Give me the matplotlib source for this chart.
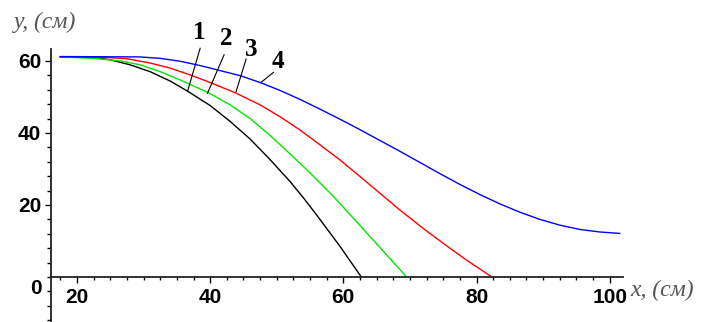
import matplotlib
matplotlib.use('Agg')
import matplotlib.pyplot as plt
from matplotlib.ticker import MultipleLocator

# curve 1 (black)
x1 = [17.5, 22.4, 25.0, 28.0, 31.0, 34.0, 36.7, 40.0, 43.0, 46.0, 49.0, 52.0, 54.0, 56.0, 59.5, 62.7]
y1 = [61.1, 61.0, 60.3, 58.9, 57.0, 54.4, 51.5, 47.6, 43.2, 38.3, 32.6, 26.5, 22.0, 17.2, 8.5, 0.0]
# curve 2 (green)
x2 = [17.5, 22.5, 26.5, 29.5, 32.5, 35.5, 39.7, 43.0, 46.0, 49.0, 52.0, 55.0, 58.5, 62.9, 69.5]
y2 = [61.1, 60.7, 60.0, 58.9, 57.0, 54.7, 51.2, 47.8, 44.0, 39.3, 34.2, 28.9, 22.4, 13.5, 0.0]
# curve 3 (red)
x3 = [17.5, 24.0, 27.5, 31.0, 34.0, 37.0, 40.0, 43.7, 47.5, 50.5, 53.5, 56.5, 59.5, 62.5, 68.5,
      72.2, 76.0, 78.5, 82.3]
y3 = [61.1, 61.0, 60.6, 59.4, 58.0, 56.1, 54.0, 51.2, 47.8, 44.5, 40.8, 36.7, 32.5, 27.9, 18.6,
      13.2, 8.0, 4.7, 0.0]
# curve 4 (blue)
x4 = [17.5, 29.5, 32.5, 35.5, 38.5, 41.5, 44.5, 47.5, 50.5, 53.5, 56.5, 59.5, 62.5, 68.5, 71.5,
      74.5, 77.5, 80.5, 83.5, 86.5, 89.5, 92.5, 95.5, 98.5, 101.5]
y4 = [61.2, 61.1, 60.7, 59.9, 58.7, 57.3, 55.9, 54.0, 51.8, 49.3, 46.6, 43.8, 40.9, 34.9, 31.8,
      28.7, 25.7, 22.9, 20.3, 18.0, 16.0, 14.4, 13.2, 12.5, 12.1]

xticks = [20, 40, 60, 80, 100]
yticks = [20, 40, 60]
curve_labels = ['1', '2', '3', '4']

tick_font = dict(family='Liberation Sans', weight='bold', size=15)
lab_font = dict(family='Liberation Serif', style='italic', size=17, color='#555555')

fig = plt.figure(figsize=(7.02, 3.22), dpi=100)
ax = fig.add_axes([51 / 702, 0.0, 572 / 702, 273 / 322])
ax.set_xlim(16.1, 102.0)
ax.set_ylim(-12.5, 63.3)

ax.plot(x1, y1, color='black', lw=1.0)
ax.plot(x2, y2, color='#00e600', lw=1.0)
ax.plot(x3, y3, color='#ff0000', lw=1.0)
ax.plot(x4, y4, color='#0000ff', lw=1.0)

for s in ['top', 'right']:
    ax.spines[s].set_visible(False)
ax.spines['bottom'].set_position(('data', 0))
ax.spines['left'].set_position(('axes', 0))
for s in ['bottom', 'left']:
    ax.spines[s].set_linewidth(1.3)
    ax.spines[s].set_color('#222222')

ax.set_xticks(xticks)
ax.set_xticklabels([str(v) for v in xticks], **tick_font)
ax.set_yticks(yticks)
ax.set_yticklabels([str(v) for v in yticks], **tick_font)
ax.xaxis.set_minor_locator(MultipleLocator(2.5))
ax.yaxis.set_minor_locator(MultipleLocator(4))
ax.tick_params(axis='x', which='major', direction='out', length=4, width=1, pad=4)
ax.tick_params(axis='x', which='minor', direction='out', length=2, width=1)
ax.tick_params(axis='y', which='major', direction='out', length=4, width=1, pad=3)
ax.tick_params(axis='y', which='minor', direction='out', length=3, width=1)

# the zero label sits a bit below the axis
ax.annotate('0', xy=(0, 0), xycoords=('axes fraction', 'data'), xytext=(-7, -8),
            textcoords='offset points', ha='right', va='center', **tick_font)

# curve numbers with leader lines
leaders = [((38.5, 63.5), (36.6, 51.5), (38.4, 68.0)),
           ((42.1, 61.7), (39.6, 51.0), (42.4, 66.2)),
           ((45.4, 60.5), (43.9, 51.5), (46.2, 63.3)),
           ((49.5, 56.8), (47.7, 54.1), (50.2, 59.8))]
for lab, (p0, p1, pt) in zip(curve_labels, leaders):
    ax.plot([p0[0], p1[0]], [p0[1], p1[1]], color='black', lw=0.8, clip_on=False)
    ax.text(pt[0], pt[1], lab, ha='center', va='center', family='Liberation Serif',
            weight='bold', size=18, clip_on=False)

fig.text(14 / 702, 1 - 22 / 322, 'y, (см)', ha='left', va='center', **lab_font)
fig.text(630 / 702, 1 - 290 / 322, 'x, (см)', ha='left', va='center', **lab_font)

fig.savefig('out.png', dpi=100)
